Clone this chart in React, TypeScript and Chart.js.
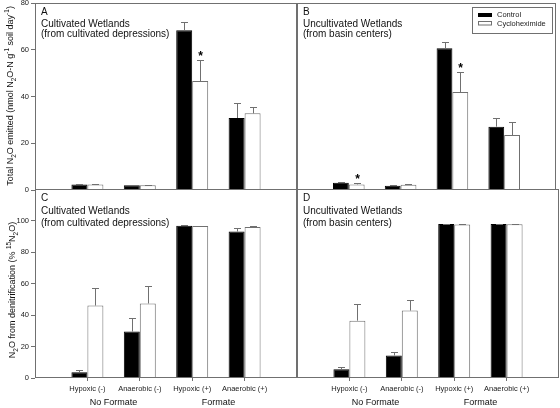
import React, { useEffect, useRef } from 'react';
import { Chart, registerables } from 'chart.js';

Chart.register(...registerables);

const FONT = '"Liberation Sans", Arial, Helvetica, sans-serif';

// ---------- data ----------
const categories = ['Hypoxic (-)', 'Anaerobic (-)', 'Hypoxic (+)', 'Anaerobic (+)'];
const categoryPositions = [1, 2, 3, 4];
const formateGroups = ['No Formate', 'Formate'];
const seriesNames = ['Control', 'Cycloheximide'];

// Panel A: total N2O emitted, cultivated wetlands
const emittedCultControl = [2.3, 2.0, 68.3, 30.8];
const emittedCultControlErr = [0.2, 0.2, 3.4, 6.3];
const emittedCultCyclo = [2.4, 2.0, 46.6, 32.8];
const emittedCultCycloErr = [0.2, 0.2, 8.9, 2.7];
const emittedCultSig = [false, false, true, false];

// Panel B: total N2O emitted, uncultivated wetlands
const emittedUncultControl = [3.1, 1.8, 60.6, 27.1];
const emittedUncultControlErr = [0.3, 0.2, 2.6, 3.6];
const emittedUncultCyclo = [2.4, 2.2, 41.9, 23.5];
const emittedUncultCycloErr = [0.4, 0.4, 8.4, 5.5];
const emittedUncultSig = [true, false, true, false];

// Panel C: N2O from denitrification, cultivated wetlands
const denitCultControl = [3.6, 29.5, 96.7, 93.0];
const denitCultControlErr = [1.5, 8.9, 0.3, 2.2];
const denitCultCyclo = [46.0, 47.3, 96.5, 95.8];
const denitCultCycloErr = [11.4, 10.9, 0.2, 0.8];
const denitCultSig = [false, false, false, false];

// Panel D: N2O from denitrification, uncultivated wetlands
const denitUncultControl = [5.5, 14.3, 97.7, 97.8];
const denitUncultControlErr = [1.3, 1.9, 0.2, 0.2];
const denitUncultCyclo = [36.4, 42.8, 97.5, 97.6];
const denitUncultCycloErr = [10.8, 6.9, 0.2, 0.2];
const denitUncultSig = [false, false, false, false];

const emittedTicks = [0, 20, 40, 60, 80];
const denitTicks = [0, 20, 40, 60, 80, 100];

type Seg = { t: string; k: number }; // k: 0 normal, 1 superscript, -1 subscript
const emittedTitle: Seg[] = [
  { t: 'Total N', k: 0 }, { t: '2', k: -1 }, { t: 'O emitted (nmol N', k: 0 }, { t: '2', k: -1 },
  { t: 'O-N g', k: 0 }, { t: '-1', k: 1 }, { t: ' soil day', k: 0 }, { t: '-1', k: 1 }, { t: ')', k: 0 },
];
const denitTitle: Seg[] = [
  { t: 'N', k: 0 }, { t: '2', k: -1 }, { t: 'O from denitrification (% ', k: 0 }, { t: '15', k: 1 },
  { t: 'N', k: 0 }, { t: '2', k: -1 }, { t: 'O)', k: 0 },
];

// ---------- layout ----------
const W = 560;
const H = 408;
const GRAY = '#707070';

const PANELS: any[] = [
  {
    letter: 'A', site: 'Cultivated Wetlands', origin: '(from cultivated depressions)',
    control: emittedCultControl, controlErr: emittedCultControlErr,
    cyclo: emittedCultCyclo, cycloErr: emittedCultCycloErr, sig: emittedCultSig,
    yMax: 80, ticks: emittedTicks, area: { left: 35, top: 3, right: 297, bottom: 190 },
    showY: true, showX: false, legend: false, yTitle: emittedTitle, yTitleX: 13, yTitleY: 96,
    textOff: [12, 23.7, 33.6],
  },
  {
    letter: 'B', site: 'Uncultivated Wetlands', origin: '(from basin centers)',
    control: emittedUncultControl, controlErr: emittedUncultControlErr,
    cyclo: emittedUncultCyclo, cycloErr: emittedUncultCycloErr, sig: emittedUncultSig,
    yMax: 80, ticks: emittedTicks, area: { left: 297, top: 3, right: 556, bottom: 190 },
    showY: false, showX: false, legend: true, yTitle: null,
    textOff: [12, 23.7, 33.6],
  },
  {
    letter: 'C', site: 'Cultivated Wetlands', origin: '(from cultivated depressions)',
    control: denitCultControl, controlErr: denitCultControlErr,
    cyclo: denitCultCyclo, cycloErr: denitCultCycloErr, sig: denitCultSig,
    yMax: 120, ticks: denitTicks, area: { left: 35, top: 189, right: 297, bottom: 378 },
    showY: true, showX: true, legend: false, yTitle: denitTitle, yTitleX: 15, yTitleY: 290,
    textOff: [12, 25.3, 36.5],
  },
  {
    letter: 'D', site: 'Uncultivated Wetlands', origin: '(from basin centers)',
    control: denitUncultControl, controlErr: denitUncultControlErr,
    cyclo: denitUncultCyclo, cycloErr: denitUncultCycloErr, sig: denitUncultSig,
    yMax: 120, ticks: denitTicks, area: { left: 297, top: 189, right: 559, bottom: 378 },
    showY: false, showX: true, legend: false, yTitle: null,
    textOff: [12, 25.3, 36.5],
  },
];

function drawRotatedRich(ctx: CanvasRenderingContext2D, segs: Seg[], bx: number, cy: number, size: number) {
  ctx.save();
  ctx.translate(bx, cy);
  ctx.rotate(-Math.PI / 2);
  const small = size * 0.72;
  const widths = segs.map((s) => {
    ctx.font = `${s.k ? small : size}px ${FONT}`;
    return ctx.measureText(s.t).width;
  });
  const total = widths.reduce((a, b) => a + b, 0);
  let x = -total / 2;
  ctx.textAlign = 'left';
  ctx.textBaseline = 'alphabetic';
  ctx.fillStyle = '#111';
  segs.forEach((s, i) => {
    ctx.font = `${s.k ? small : size}px ${FONT}`;
    const dy = s.k === 1 ? -size * 0.42 : s.k === -1 ? size * 0.28 : 0;
    ctx.fillText(s.t, x, dy);
    x += widths[i];
  });
  ctx.restore();
}

function decoPlugin(p: any) {
  return {
    id: 'deco' + p.letter,
    afterDatasetsDraw(chart: any) {
      const ctx: CanvasRenderingContext2D = chart.ctx;
      const y = chart.scales.y;
      const sets = [
        [p.control, p.controlErr],
        [p.cyclo, p.cycloErr],
      ];
      ctx.save();
      sets.forEach(([vals, errs], di) => {
        const meta = chart.getDatasetMeta(di);
        meta.data.forEach((bar: any, i: number) => {
          const base = y.getPixelForValue(vals[i]);
          const top = y.getPixelForValue(vals[i] + errs[i]);
          const cx = Math.round(bar.x) + 0.5;
          const ty = Math.round(top) + 0.5;
          ctx.strokeStyle = GRAY;
          ctx.lineWidth = 1;
          ctx.beginPath();
          ctx.moveTo(cx, base);
          ctx.lineTo(cx, ty);
          ctx.moveTo(cx - 3.5, ty);
          ctx.lineTo(cx + 3.5, ty);
          ctx.stroke();
          if (di === 1 && p.sig[i]) {
            ctx.font = `bold 12px ${FONT}`;
            ctx.fillStyle = '#000';
            ctx.textAlign = 'center';
            ctx.textBaseline = 'alphabetic';
            const m = ctx.measureText('*');
            const asc = m.actualBoundingBoxAscent || 8;
            const desc = m.actualBoundingBoxDescent || -4;
            const cyy = top - 6.5;
            ctx.fillText('*', cx, cyy + (asc - desc) / 2);
          }
        });
      });
      ctx.restore();
    },
    afterDraw(chart: any) {
      const ctx: CanvasRenderingContext2D = chart.ctx;
      const a = chart.chartArea;
      ctx.save();
      // frame
      ctx.strokeStyle = GRAY;
      ctx.lineWidth = 1;
      const l = Math.round(a.left) + 0.5;
      const t = Math.round(a.top) + 0.5;
      const r = Math.round(a.right) - 0.5;
      const b = Math.round(a.bottom) - 0.5;
      ctx.strokeRect(l, t, r - l, b - t);

      // panel texts
      ctx.fillStyle = '#111';
      ctx.textAlign = 'left';
      ctx.textBaseline = 'alphabetic';
      ctx.font = `10px ${FONT}`;
      ctx.fillText(p.letter, a.left + 6, a.top + p.textOff[0]);
      ctx.fillText(p.site, a.left + 6, a.top + p.textOff[1]);
      ctx.fillText(p.origin, a.left + 6, a.top + p.textOff[2]);

      // legend
      if (p.legend) {
        const lx = Math.round(a.right) - 84;
        const ly = Math.round(a.top) + 4;
        ctx.strokeStyle = GRAY;
        ctx.strokeRect(lx + 0.5, ly + 0.5, 80, 26);
        ctx.fillStyle = '#000';
        ctx.fillRect(lx + 6, ly + 6, 14, 4);
        ctx.fillStyle = '#fff';
        ctx.fillRect(lx + 6, ly + 14, 14, 4);
        ctx.strokeStyle = GRAY;
        ctx.strokeRect(lx + 6.5, ly + 14.5, 13, 3.5);
        ctx.fillStyle = '#222';
        ctx.font = `7.5px ${FONT}`;
        ctx.textBaseline = 'middle';
        ctx.fillText(seriesNames[0], lx + 25, ly + 8);
        ctx.fillText(seriesNames[1], lx + 25, ly + 16.5);
      }

      // y title
      if (p.yTitle) {
        drawRotatedRich(ctx, p.yTitle, p.yTitleX, p.yTitleY, 9);
      }

      // formate group labels
      if (p.showX) {
        const x = chart.scales.x;
        ctx.fillStyle = '#111';
        ctx.font = `9px ${FONT}`;
        ctx.textAlign = 'center';
        ctx.textBaseline = 'middle';
        const g1 = (x.getPixelForValue(categoryPositions[0]) + x.getPixelForValue(categoryPositions[1])) / 2;
        const g2 = (x.getPixelForValue(categoryPositions[2]) + x.getPixelForValue(categoryPositions[3])) / 2;
        ctx.fillText(formateGroups[0], g1, a.bottom + 25);
        ctx.fillText(formateGroups[1], g2, a.bottom + 25);
      }
      ctx.restore();
    },
  };
}

function makeConfig(p: any): any {
  const a = p.area;
  const yAxisW = p.showY ? a.left : 0;
  const xAxisH = p.showX ? 20 : 0;
  return {
    type: 'bar',
    data: {
      datasets: [
        {
          label: seriesNames[0],
          data: categoryPositions.map((x, i) => ({ x, y: p.control[i] })),
          backgroundColor: '#000',
          borderColor: '#000',
          borderWidth: 1,
        },
        {
          label: seriesNames[1],
          data: categoryPositions.map((x, i) => ({ x, y: p.cyclo[i] })),
          backgroundColor: '#fff',
          borderColor: GRAY,
          borderWidth: 1,
        },
      ],
    },
    options: {
      animation: false,
      responsive: false,
      maintainAspectRatio: false,
      layout: {
        padding: {
          left: a.left - yAxisW,
          top: a.top,
          right: W - a.right,
          bottom: H - a.bottom - xAxisH,
        },
      },
      plugins: { legend: { display: false }, tooltip: { enabled: false } },
      datasets: { bar: { categoryPercentage: 0.61, barPercentage: 1 } },
      scales: {
        x: {
          type: 'linear',
          min: 0,
          max: 5,
          offset: false,
          display: p.showX,
          afterBuildTicks: (s: any) => {
            s.ticks = categoryPositions.map((v) => ({ value: v }));
          },
          afterFit: (s: any) => {
            s.height = xAxisH;
            s.paddingLeft = 0;
            s.paddingRight = 0;
          },
          ticks: {
            autoSkip: false,
            maxRotation: 0,
            padding: 3,
            color: '#222',
            font: { family: FONT, size: 7.5 },
            callback: (v: number) => {
              const idx = categoryPositions.indexOf(v);
              return idx >= 0 ? categories[idx] : '';
            },
          },
          grid: { display: true, offset: false, drawOnChartArea: false, drawTicks: true, tickLength: 3, color: GRAY },
          border: { display: false },
        },
        y: {
          min: 0,
          max: p.yMax,
          display: p.showY,
          afterBuildTicks: (s: any) => {
            s.ticks = p.ticks.map((v: number) => ({ value: v }));
          },
          afterFit: (s: any) => {
            s.width = yAxisW;
            s.paddingTop = 0;
            s.paddingBottom = 0;
          },
          ticks: { padding: 2, color: '#222', font: { family: FONT, size: 7.5 } },
          grid: { display: true, drawOnChartArea: false, drawTicks: true, tickLength: 4, color: GRAY },
          border: { display: false },
        },
      },
    },
    plugins: [decoPlugin(p)],
  };
}

export default function App() {
  const refs = useRef<(HTMLCanvasElement | null)[]>([]);
  useEffect(() => {
    const charts = PANELS.map((p, i) => new Chart(refs.current[i] as HTMLCanvasElement, makeConfig(p)));
    return () => charts.forEach((c) => c.destroy());
  }, []);
  return (
    <div style={{ position: 'absolute', left: 0, top: 0, width: W, height: H, background: '#fff' }}>
      {PANELS.map((p, i) => (
        <canvas
          key={p.letter}
          ref={(el) => {
            refs.current[i] = el;
          }}
          width={W}
          height={H}
          style={{ position: 'absolute', left: 0, top: 0, width: W, height: H }}
        />
      ))}
    </div>
  );
}
